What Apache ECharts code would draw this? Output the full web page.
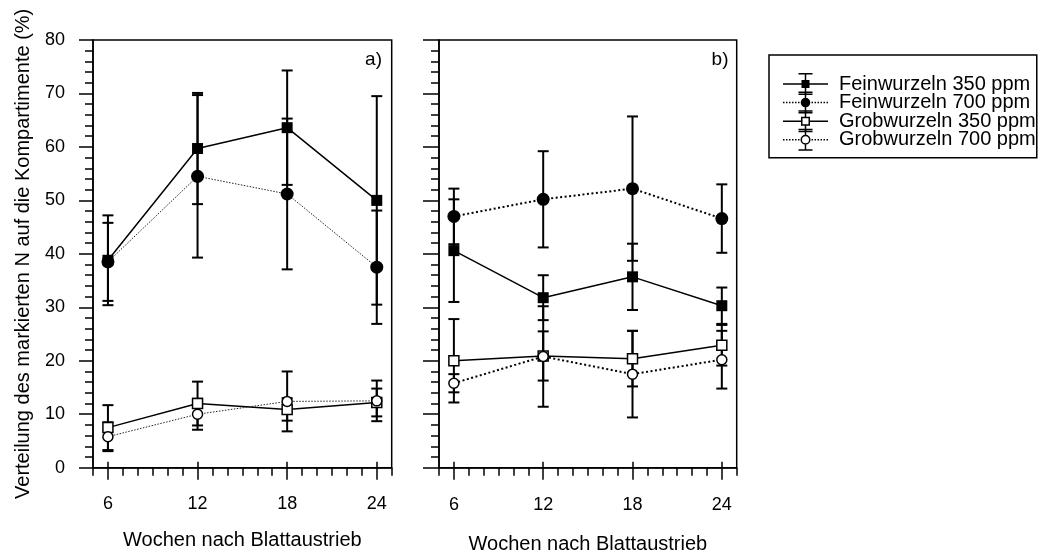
<!DOCTYPE html>
<html>
<head>
<meta charset="utf-8">
<script src="https://cdn.jsdelivr.net/npm/echarts@6/dist/echarts.min.js"></script>
<style>
html,body{margin:0;padding:0;background:#fff;}
#chart{width:1044px;height:553px;}
</style>
</head>
<body>
<div id="chart"></div>
<script>
// ---------- data ----------
const weeks = [6, 12, 18, 24];
const majorTicksX = [6, 12, 18, 24];
const seriesNames = ['Feinwurzeln 350 ppm', 'Feinwurzeln 700 ppm', 'Grobwurzeln 350 ppm', 'Grobwurzeln 700 ppm'];
const panelLabels = ['a)', 'b)'];
const xTitle = 'Wochen nach Blattaustrieb';
const yTitle = 'Verteilung des markierten N auf die Kompartimente (%)';

// panel a
const fein350A = [38.8, 59.7, 63.6, 50.0];
const fein350AErr = [8.4, 10.4, 10.7, 19.5];
const fein700A = [38.5, 54.5, 51.2, 37.5];
const fein700AErr = [7.3, 15.2, 14.1, 10.6];
const grob350A = [7.5, 12.0, 10.9, 12.2];
const grob350AErr = [4.2, 4.1, 2.1, 2.6];
const grob700A = [5.8, 10.0, 12.4, 12.5];
const grob700AErr = [2.7, 2.9, 5.6, 3.8];
// panel b
const fein350B = [40.6, 31.8, 35.7, 30.3];
const fein350BErr = [9.6, 4.2, 6.2, 3.4];
const fein700B = [47.0, 50.2, 52.2, 46.6];
const fein700BErr = [5.2, 9.0, 13.5, 6.4];
const grob350B = [20.0, 20.9, 20.4, 22.9];
const grob350BErr = [7.8, 4.6, 5.2, 3.8];
const grob700B = [15.8, 20.8, 17.5, 20.2];
const grob700BErr = [1.7, 9.4, 8.1, 5.4];

// ---------- styles ----------
const FONT = "'Liberation Sans', Arial, Helvetica, sans-serif";
const styles = [
  {symbol: 'rect',   size: 11, fill: '#000', border: 0,   dash: 'solid'},
  {symbol: 'circle', size: 13, fill: '#000', border: 0,   dash: 'dotted'},
  {symbol: 'rect',   size: 10, fill: '#fff', border: 1.5, dash: 'solid'},
  {symbol: 'circle', size: 10, fill: '#fff', border: 1.5, dash: 'dotted'}
];
const panels = [
  {vals: [fein350A, fein700A, grob350A, grob700A], errs: [fein350AErr, fein700AErr, grob350AErr, grob700AErr], dotW: 1, dotColor: '#222', dotDash: [1.5, 1.5]},
  {vals: [fein350B, fein700B, grob350B, grob700B], errs: [fein350BErr, fein700BErr, grob350BErr, grob700BErr], dotW: 2, dotColor: '#000', dotDash: [2, 2.5]}
];

// ---------- legend icons (error-bar glyphs) ----------
function R(x, y, w, h) { return `M${x} ${y}L${x + w} ${y}L${x + w} ${y + h}L${x} ${y + h}Z`; }
function Rrev(x, y, w, h) { return `M${x} ${y}L${x} ${y + h}L${x + w} ${y + h}L${x + w} ${y}Z`; }
function C(cx, cy, r) { return `M${cx - r} ${cy}A${r} ${r} 0 1 1 ${cx + r} ${cy}A${r} ${r} 0 1 1 ${cx - r} ${cy}Z`; }
function Crev(cx, cy, r) { return `M${cx - r} ${cy}A${r} ${r} 0 1 0 ${cx + r} ${cy}A${r} ${r} 0 1 0 ${cx - r} ${cy}Z`; }
const caps = R(15.5, 0, 14, 1.5) + R(15.5, 20.5, 14, 1.5);
function dots() { let s = ''; [0, 3, 6, 9, 12, 15, 28.5, 31.5, 34.5, 37.5, 40.5, 43.5].forEach(x => { s += R(x, 10.25, 1.5, 1.5); }); return s; }
const legendIcons = [
  'path://' + R(0, 10.25, 45, 1.5) + R(21.75, 1.5, 1.5, 19) + caps + R(18.5, 7, 8, 8),
  'path://' + dots() + R(21.75, 1.5, 1.5, 19) + caps + C(22.5, 11, 4.8),
  'path://' + R(0, 10.25, 18, 1.5) + R(27, 10.25, 18, 1.5) + R(21.75, 1.5, 1.5, 5) + R(21.75, 15.5, 1.5, 5) + caps + R(18, 6.5, 9, 9) + Rrev(19.5, 8, 6, 6),
  'path://' + dots() + R(21.75, 1.5, 1.5, 4.5) + R(21.75, 16, 1.5, 4.5) + caps + C(22.5, 11, 5) + Crev(22.5, 11, 3.5)
];

// ---------- layout ----------
const grids = [
  {left: 93, top: 40, width: 298.7, height: 427.7},
  {left: 439, top: 40, width: 297.7, height: 427.7}
];

const xAxes = [], yAxes = [], series = [];
grids.forEach((g, gi) => {
  const xi = xAxes.length;
  xAxes.push({
    gridIndex: gi, type: 'value', min: 5, max: 25, position: 'bottom',
    axisLine: {show: true, onZero: false, lineStyle: {color: '#000', width: 1.5}},
    axisTick: {show: true, customValues: majorTicksX, length: 12, lineStyle: {color: '#000', width: 1.5}},
    axisLabel: {show: true, customValues: majorTicksX, margin: gi === 0 ? 27 : 28, color: '#000', fontSize: 18, fontFamily: FONT},
    splitLine: {show: false},
    name: xTitle, nameLocation: 'middle', nameGap: gi === 0 ? 63 : 66.5,
    nameTextStyle: {color: '#000', fontSize: 20, fontFamily: FONT}
  });
  xAxes.push({
    gridIndex: gi, type: 'value', min: 5, max: 25, interval: 1, position: 'bottom',
    axisLine: {show: false, onZero: false},
    axisTick: {show: true, length: 8, lineStyle: {color: '#000', width: 1.5}},
    axisLabel: {show: false}, splitLine: {show: false}
  });
  xAxes.push({
    gridIndex: gi, type: 'value', min: 5, max: 25, position: 'bottom',
    axisLine: {show: false, onZero: false},
    axisTick: {show: true, inside: true, customValues: majorTicksX, length: 6, lineStyle: {color: '#000', width: 1.5}},
    axisLabel: {show: false}, splitLine: {show: false}
  });
  const yi = yAxes.length;
  const yMain = {
    gridIndex: gi, type: 'value', min: 0, max: 80, interval: 10, position: 'left',
    axisLine: {show: true, onZero: false, lineStyle: {color: '#000', width: 1.5}},
    axisTick: {show: true, length: gi === 0 ? 14 : 16, lineStyle: {color: '#000', width: 1.5}},
    axisLabel: {show: gi === 0, margin: 28, color: '#000', fontSize: 18, fontFamily: FONT},
    splitLine: {show: false}
  };
  if (gi === 0) {
    yMain.name = yTitle;
    yMain.nameLocation = 'middle';
    yMain.nameGap = 60;
    yMain.nameTextStyle = {color: '#000', fontSize: 20, fontFamily: FONT};
  }
  yAxes.push(yMain);
  yAxes.push({
    gridIndex: gi, type: 'value', min: 0, max: 80, interval: 2, position: 'left',
    axisLine: {show: false, onZero: false},
    axisTick: {show: true, length: 8, lineStyle: {color: '#000', width: 1.5}},
    axisLabel: {show: false}, splitLine: {show: false}
  });

  const p = panels[gi];
  p.vals.forEach((vals, si) => {
    const st = styles[si];
    const dotted = st.dash === 'dotted';
    // error bars
    series.push({
      type: 'custom', xAxisIndex: xi, yAxisIndex: yi, z: 1, silent: true,
      data: weeks.map((w, k) => [w, vals[k], p.errs[si][k]]),
      encode: {x: 0, y: 1},
      renderItem: function (params, api) {
        const x = api.value(0), y = api.value(1), e = api.value(2);
        const t = api.coord([x, y + e]);
        const b = api.coord([x, y - e]);
        const hw = 5.5;
        const ls = {stroke: '#000', lineWidth: 2};
        return {type: 'group', children: [
          {type: 'line', shape: {x1: t[0], y1: t[1], x2: b[0], y2: b[1]}, style: ls},
          {type: 'line', shape: {x1: t[0] - hw, y1: t[1], x2: t[0] + hw, y2: t[1]}, style: ls},
          {type: 'line', shape: {x1: b[0] - hw, y1: b[1], x2: b[0] + hw, y2: b[1]}, style: ls}
        ]};
      }
    });
    // lines + symbols
    series.push({
      type: 'line', name: seriesNames[si], xAxisIndex: xi, yAxisIndex: yi, z: 3,
      data: weeks.map((w, k) => [w, vals[k]]),
      symbol: st.symbol, symbolSize: st.size, showAllSymbol: true,
      itemStyle: {color: st.fill, borderColor: '#000', borderWidth: st.border},
      lineStyle: dotted ? {color: p.dotColor, width: p.dotW, type: p.dotDash} : {color: '#000', width: 1.5, type: 'solid'},
      emphasis: {disabled: true}, silent: true
    });
  });
});

const option = {
  backgroundColor: '#fff',
  animation: false,
  grid: grids.map(g => Object.assign({show: true, borderColor: '#000', borderWidth: 1.5, backgroundColor: 'transparent', containLabel: false, outerBoundsMode: 'none'}, g)),
  xAxis: xAxes,
  yAxis: yAxes,
  legend: {
    orient: 'vertical', left: 769, top: 55,
    padding: [18, 1, 7, 14],
    itemWidth: 45, itemHeight: 22, itemGap: -3.4,
    borderColor: '#000', borderWidth: 1.5, backgroundColor: '#fff',
    selectedMode: false,
    itemStyle: {color: '#000', borderWidth: 0},
    textStyle: {color: '#000', fontSize: 20, fontFamily: FONT, padding: [0, 0, 0, 6]},
    data: seriesNames.map((n, i) => ({name: n, icon: legendIcons[i]}))
  },
  graphic: [
    {type: 'text', right: 1044 - 382, top: 50, style: {text: panelLabels[0], fontSize: 19, fontFamily: FONT, fill: '#000'}},
    {type: 'text', right: 1044 - 728.5, top: 50, style: {text: panelLabels[1], fontSize: 19, fontFamily: FONT, fill: '#000'}}
  ],
  series: series
};

const chart = echarts.init(document.getElementById('chart'), null, {renderer: 'canvas'});
chart.setOption(option);
</script>
</body>
</html>
